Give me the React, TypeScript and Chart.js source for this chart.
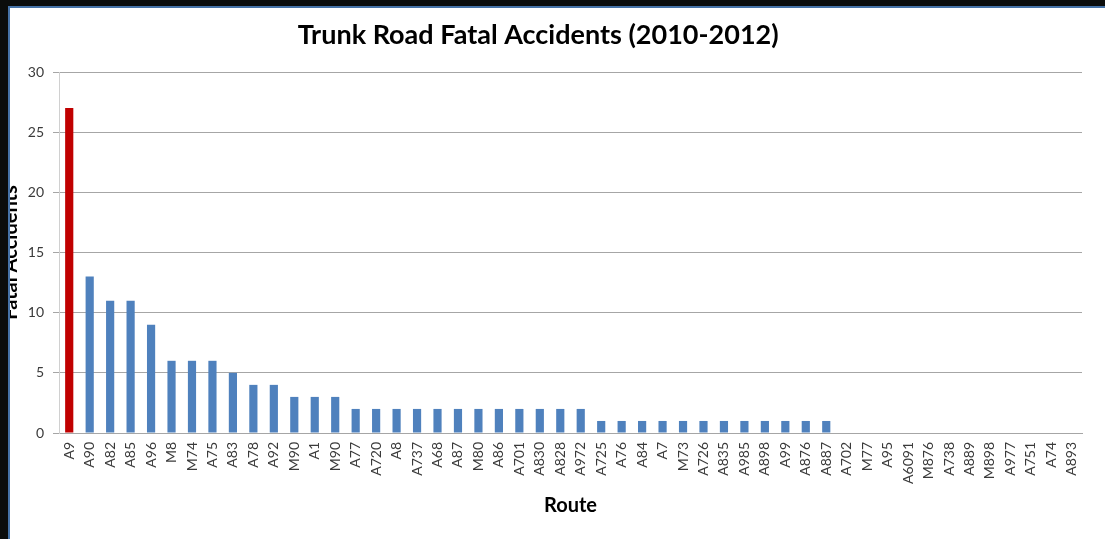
import React, { useEffect, useRef } from "react";
import { Chart, registerables } from "chart.js";

Chart.register(...registerables);

const chartTitle = "Trunk Road Fatal Accidents (2010-2012)";
const xAxisTitle = "Route";
const yAxisTitle = "Fatal Accidents";

const routes = [
  "A9", "A90", "A82", "A85", "A96", "M8", "M74", "A75", "A83", "A78",
  "A92", "M90", "A1", "M90", "A77", "A720", "A8", "A737", "A68", "A87",
  "M80", "A86", "A701", "A830", "A828", "A972", "A725", "A76", "A84", "A7",
  "M73", "A726", "A835", "A985", "A898", "A99", "A876", "A887", "A702", "M77",
  "A95", "A6091", "M876", "A738", "A889", "M898", "A977", "A751", "A74", "A893",
];

const fatalAccidents = [
  27, 13, 11, 11, 9, 6, 6, 6, 5, 4,
  4, 3, 3, 3, 2, 2, 2, 2, 2, 2,
  2, 2, 2, 2, 2, 2, 1, 1, 1, 1,
  1, 1, 1, 1, 1, 1, 1, 1, 0, 0,
  0, 0, 0, 0, 0, 0, 0, 0, 0, 0,
];

const highlightedRoute = "A9";
const yMin = 0;
const yMax = 30;
const yStep = 5;

const RED = "#c00000";
const BLUE = "#4f81bd";
const FONT = "Lato, 'Open Sans', 'Liberation Sans', sans-serif";

const titlePlugin = {
  id: "pageTitle",
  afterDraw(chart: any) {
    const ctx = chart.ctx;
    ctx.save();
    ctx.font = `bold 27px ${FONT}`;
    ctx.fillStyle = "#000000";
    ctx.textAlign = "center";
    ctx.textBaseline = "alphabetic";
    ctx.fillText(chartTitle, chart.width * 0.487, 44);
    ctx.restore();
  },
};

export default function App() {
  const canvasRef = useRef<HTMLCanvasElement | null>(null);

  useEffect(() => {
    let chart: Chart | null = null;
    let cancelled = false;
    const build = () => {
      if (cancelled || !canvasRef.current) return;
      const colors = routes.map((r, i) => (i === 0 && r === highlightedRoute ? RED : BLUE));
      chart = new Chart(canvasRef.current, {
        type: "bar",
        data: {
          labels: routes,
          datasets: [
            {
              label: yAxisTitle,
              data: fatalAccidents,
              backgroundColor: colors,
              borderWidth: 0,
              barPercentage: 0.4,
              categoryPercentage: 1,
            },
          ],
        },
        plugins: [titlePlugin],
        options: {
          responsive: false,
          animation: false,
          devicePixelRatio: 1,
          layout: { padding: { top: 72, right: 23, left: 0, bottom: 0 } },
          plugins: {
            legend: { display: false },
            title: { display: false },
            tooltip: { enabled: false },
          },
          scales: {
            x: {
              grid: { display: false, drawTicks: false },
              border: { display: true, color: "#a6a6a6", width: 1 },
              ticks: {
                autoSkip: false,
                minRotation: 90,
                maxRotation: 90,
                padding: 9,
                color: "#3a3a3a",
                font: { family: FONT, size: 14 },
              },
              title: {
                display: true,
                text: xAxisTitle,
                color: "#000000",
                font: { family: FONT, size: 20, weight: "bold" },
                padding: { top: 0, bottom: 21 },
              },
              afterFit: (scale: any) => {
                scale.height = 106;
              },
            },
            y: {
              min: yMin,
              max: yMax,
              ticks: {
                stepSize: yStep,
                padding: 9,
                color: "#3a3a3a",
                font: { family: FONT, size: 14 },
              },
              grid: {
                color: "#a6a6a6",
                lineWidth: 1,
                drawTicks: true,
                tickLength: 6,
              },
              border: { display: true, color: "#d0d0d0", width: 1 },
              title: {
                display: true,
                text: yAxisTitle,
                color: "#000000",
                font: { family: FONT, size: 20, weight: "bold", lineHeight: 1.05 },
                padding: { top: 0, bottom: 0 },
              },
              afterFit: (scale: any) => {
                scale.width = 59;
              },
            },
          },
        },
      });
    };
    const fontsApi = (document as any).fonts;
    if (fontsApi && fontsApi.load) {
      Promise.all([
        fontsApi.load(`bold 24px Lato`),
        fontsApi.load(`14px Lato`),
      ])
        .catch(() => null)
        .then(build);
    } else {
      build();
    }
    return () => {
      cancelled = true;
      if (chart) chart.destroy();
    };
  }, []);

  return (
    <div
      style={{
        position: "fixed",
        left: 0,
        top: 0,
        width: 1105,
        height: 539,
        background: "#ffffff",
        overflow: "hidden",
      }}
    >
      <canvas
        ref={canvasRef}
        width={1105}
        height={539}
        style={{ position: "absolute", left: 0, top: 0, display: "block" }}
      />
      <div style={{ position: "absolute", left: 0, top: 0, width: 8, height: 539, background: "#0b0d0b" }} />
      <div style={{ position: "absolute", left: 0, top: 0, width: 1105, height: 6, background: "#0b0d0b" }} />
      <div style={{ position: "absolute", left: 8, top: 6, width: 2, height: 533, background: "#4673a6" }} />
      <div style={{ position: "absolute", left: 8, top: 6, width: 1097, height: 2, background: "#4673a6" }} />
    </div>
  );
}
